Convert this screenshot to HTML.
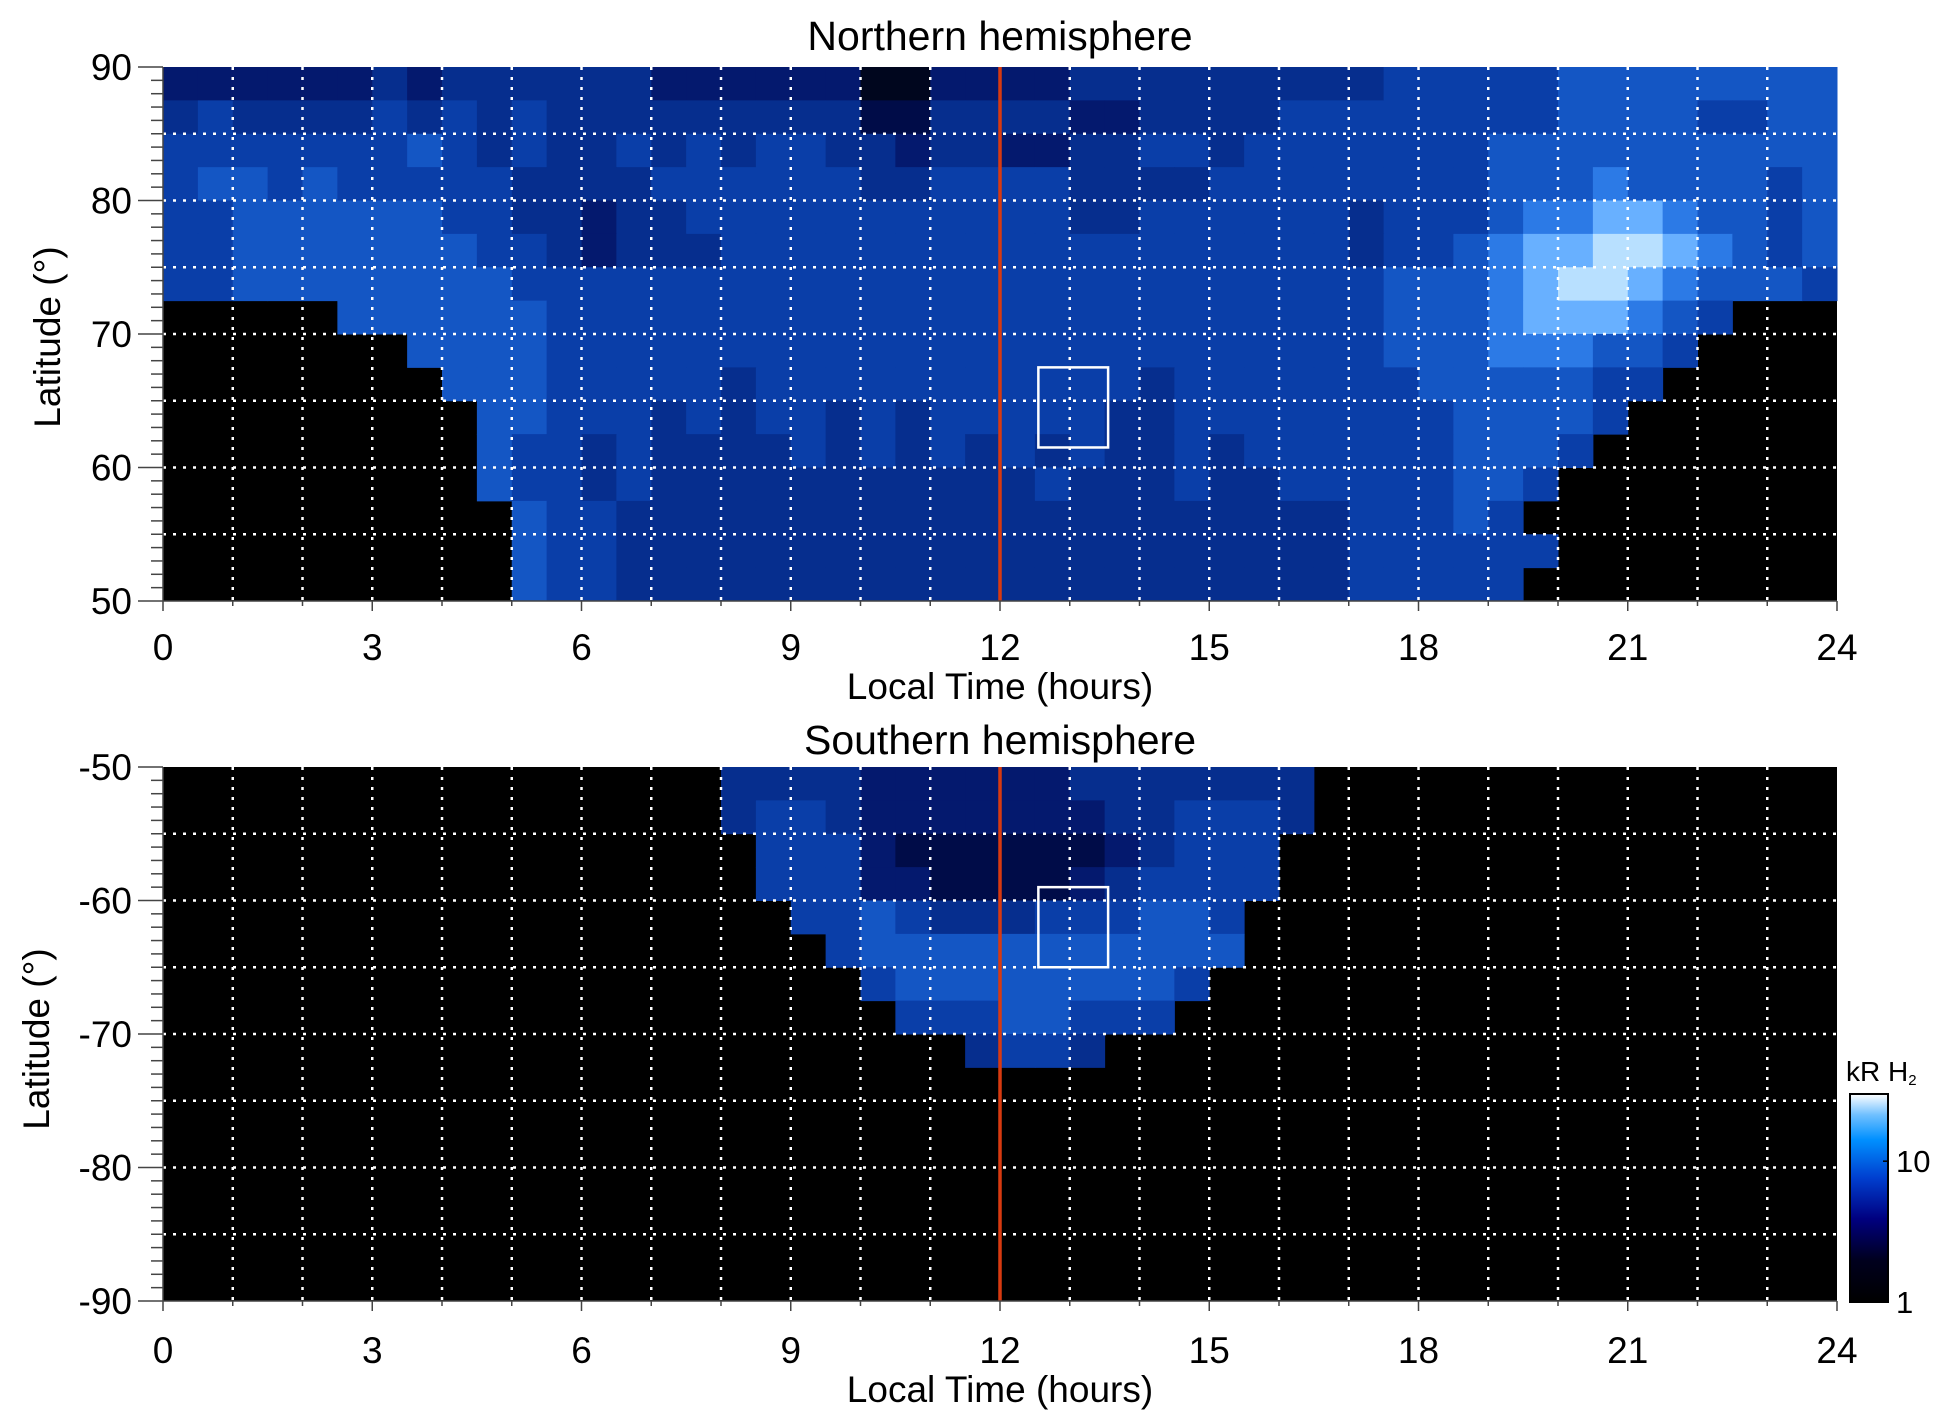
<!DOCTYPE html>
<html><head><meta charset="utf-8"><style>
html,body{margin:0;padding:0;background:#fff;}
svg{display:block;font-family:"Liberation Sans",Arial,sans-serif;}
</style></head><body>
<svg id="chart" width="1950" height="1423" viewBox="0 0 1950 1423" xmlns="http://www.w3.org/2000/svg">
<defs>
<linearGradient id="cbar" x1="0" y1="1" x2="0" y2="0">
<stop offset="0" stop-color="#000000"/><stop offset="0.2" stop-color="#00001e"/>
<stop offset="0.4" stop-color="#000080"/><stop offset="0.6" stop-color="#0040d0"/>
<stop offset="0.78" stop-color="#0090ff"/><stop offset="0.9" stop-color="#70c0ff"/>
<stop offset="1" stop-color="#ffffff"/></linearGradient>
</defs>
<g id="root"></g>
</svg>
<script>
// Local time bins: 48 half-hour bins; latitude bins: 16 of 2.5 deg. Digit = intensity level (0 = no data)
const ltBins = 48;
const northLatTop = 90, northLatBottom = 50;
const southLatTop = -50, southLatBottom = -90;
const northRows = [
"333333 434444 443333 331133 334444 444445 555566 666666",
"454444 545454 444444 442244 443344 445555 555566 665566",
"555555 565454 454545 544344 334455 455555 556666 666666",
"566565 555544 445555 554455 554444 555555 556667 666656",
"556666 665544 344555 555555 554455 555545 556778 876656",
"556666 666554 344455 555555 555555 555545 567889 987656",
"556666 666655 555555 555555 555555 555556 667899 876665",
"000006 666665 555555 555555 555555 555556 667888 765000",
"000000 066665 555555 555555 555555 555556 667776 650000",
"000000 006665 555545 555555 555545 555555 666665 500000",
"000000 000665 554545 545455 555445 555555 566665 000000",
"000000 000655 454444 545454 545445 455555 566650 000000",
"000000 000655 454444 444444 454445 445555 566500 000000",
"000000 000065 544444 444444 444444 444455 565000 000000",
"000000 000065 544444 444444 444444 444455 555500 000000",
"000000 000065 544444 444444 444444 444455 555000 000000"];
const southRows = [
"000000 000000 000044 443333 334444 444000 000000 000000",
"000000 000000 000045 543333 333445 554000 000000 000000",
"000000 000000 000005 553222 222345 550000 000000 000000",
"000000 000000 000005 553322 223455 550000 000000 000000",
"000000 000000 000000 556544 455566 500000 000000 000000",
"000000 000000 000000 056666 666666 600000 000000 000000",
"000000 000000 000000 005666 666665 000000 000000 000000",
"000000 000000 000000 000555 665550 000000 000000 000000",
"000000 000000 000000 000004 554000 000000 000000 000000",
"000000 000000 000000 000000 000000 000000 000000 000000",
"000000 000000 000000 000000 000000 000000 000000 000000",
"000000 000000 000000 000000 000000 000000 000000 000000",
"000000 000000 000000 000000 000000 000000 000000 000000",
"000000 000000 000000 000000 000000 000000 000000 000000",
"000000 000000 000000 000000 000000 000000 000000 000000",
"000000 000000 000000 000000 000000 000000 000000 000000"];
const xTickLabels = ["0","3","6","9","12","15","18","21","24"];
const northYTickLabels = ["90","80","70","60","50"];
const southYTickLabels = ["-50","-60","-70","-80","-90"];
const northBox = [12.55, 13.55, 67.5, 61.5];
const southBox = [12.55, 13.55, -59, -65];
const cbarTickValues = [1, 10];
const cbarMax = 30;

const palette = ["#000000","#00061e","#000c48","#04196e","#062e8e","#0a3ea8","#1456c4","#2c7ae6","#68b0ff","#b8e0ff"];
const NS = "http://www.w3.org/2000/svg";
const root = document.getElementById('root');
function mk(tag, attrs, parent){const e=document.createElementNS(NS,tag);for(const k in attrs)e.setAttribute(k,attrs[k]);(parent||root).appendChild(e);return e;}

const X0=163, X1=1837;
function panel(name, top, bottom, latTop, latBot, rows, yLabels, box, title, titleY, xlabY, xtitleY, ytitleY){
  const g=mk('g',{});
  
  
  const xs=lt=>X0+(lt/24)*(X1-X0);
  const ys=lat=>top+(latTop-lat)/(latTop-latBot)*(bottom-top);
  const bg=mk('rect',{x:X0,y:top,width:X1-X0,height:bottom-top,fill:'#000'},g);
  
  
  const nLat=rows.length, dLat=(latTop-latBot)/nLat, dLt=24/ltBins;
  rows.forEach((row,r)=>{
    const s=row.replace(/ /g,'');
    for(let c=0;c<ltBins;c++){
      const v=+s[c]; if(!v) continue;
      const x=xs(c*dLt), y=ys(latTop-r*dLat);
      const cell=mk('rect',{x:x,y:y,width:xs((c+1)*dLt)-x+0.5,height:ys(latTop-(r+1)*dLat)-y+0.5,fill:palette[v]},g);
      
      
    }
  });
  for(let h=1;h<24;h++){
    const gl=mk('line',{x1:xs(h),x2:xs(h),y1:top,y2:bottom,stroke:'#fff','stroke-width':2.5,'stroke-dasharray':'3 7'},g);
    
    
  }
  for(let l=Math.min(latTop,latBot)+5;l<Math.max(latTop,latBot);l+=5){
    const gl=mk('line',{x1:X0,x2:X1,y1:ys(l),y2:ys(l),stroke:'#fff','stroke-width':2.5,'stroke-dasharray':'3 7'},g);
    
    
  }
  const nl=mk('line',{x1:xs(12),x2:xs(12),y1:top,y2:bottom,stroke:'#d83a10','stroke-width':3.5},g);
  
  
  const bx=mk('rect',{x:xs(box[0]),y:ys(box[2]),width:xs(box[1])-xs(box[0]),height:ys(box[3])-ys(box[2]),fill:'none',stroke:'#fff','stroke-width':2.5},g);
  
  
  mk('line',{x1:X0,x2:X1,y1:bottom,y2:bottom,stroke:'#444','stroke-width':1.5},g);
  mk('line',{x1:X0,x2:X0,y1:top,y2:bottom,stroke:'#444','stroke-width':1.5},g);
  for(let h=0;h<=24;h++){
    mk('line',{x1:xs(h),x2:xs(h),y1:bottom,y2:bottom+(h%3?5:10),stroke:'#444','stroke-width':1.5},g);
  }
  xTickLabels.forEach((t,i)=>{
    const tx=mk('text',{x:xs(i*3),y:xlabY,'font-size':37,'text-anchor':'middle',fill:'#000'},g);
    tx.textContent=t;
    
    
  });
  const lo=Math.min(latTop,latBot), hi=Math.max(latTop,latBot);
  for(let l=lo;l<=hi;l++){
    const major=(l%10===0);
    mk('line',{x1:X0-(major?25:12),x2:X0,y1:ys(l),y2:ys(l),stroke:'#444','stroke-width':1.5},g);
  }
  yLabels.forEach((t,i)=>{
    const tx=mk('text',{x:132,y:ys(+t)+13,'font-size':37,'text-anchor':'end',fill:'#000'},g);
    tx.textContent=t;
    
    
  });
  const tt=mk('text',{x:(X0+X1)/2,y:titleY,'font-size':41,'text-anchor':'middle',fill:'#000'},g);
  tt.textContent=title;
  
  
  const xt=mk('text',{x:(X0+X1)/2,y:xtitleY,'font-size':37,'text-anchor':'middle',fill:'#000'},g);
  xt.textContent='Local Time (hours)';
  
  
  const yt=mk('text',{x:0,y:0,'font-size':37,'text-anchor':'middle',fill:'#000',transform:'translate('+(name==='north'?60:49)+','+ytitleY+') rotate(-90)'},g);
  yt.textContent='Latitude (°)';
  
  
}
panel('north',67,601,northLatTop,northLatBottom,northRows,northYTickLabels,northBox,'Northern hemisphere',50,660,699,337);
panel('south',767,1301,southLatTop,southLatBottom,southRows,southYTickLabels,southBox,'Southern hemisphere',754,1363,1402,1039);

const CB={x:1850,y:1094,w:38,h:208};
const cg=mk('g',{});


mk('rect',{x:CB.x,y:CB.y,width:CB.w,height:CB.h,fill:'url(#cbar)',stroke:'#000','stroke-width':2},cg);
const cy=v=>CB.y+CB.h-(Math.log10(v)/Math.log10(cbarMax))*CB.h;
cbarTickValues.forEach(v=>{
  mk('line',{x1:CB.x+CB.w-5,x2:CB.x+CB.w,y1:cy(v),y2:cy(v),stroke:'#000','stroke-width':1.5},cg);
  const t=mk('text',{x:CB.x+CB.w+8,y:cy(v)+11,'font-size':31,fill:'#000'},cg);
  t.textContent=String(v);
  
  
});
const ct=mk('text',{x:1846,y:1081,'font-size':28,fill:'#000'},cg);
ct.innerHTML='kR H<tspan font-size="15" dy="4">2</tspan>';


</script>
</body></html>
